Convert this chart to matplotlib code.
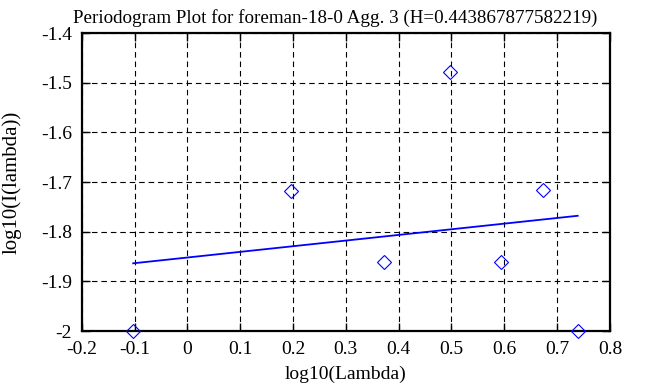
import matplotlib
matplotlib.use("Agg")
import matplotlib.pyplot as plt
from matplotlib.ticker import FuncFormatter

plt.rcParams['font.family'] = ['Liberation Serif', 'DejaVu Serif']
plt.rcParams['axes.unicode_minus'] = False

log_lambda = [-0.1025, 0.1956, 0.3716, 0.497, 0.593, 0.6726, 0.7389]
log_I = [-2.0, -1.718, -1.8605, -1.4786, -1.8605, -1.716, -2.0]
fit_x = [-0.1025, 0.7389]
fit_y = [-1.8637, -1.768]
title = "Periodogram Plot for foreman-18-0 Agg. 3 (H=0.443867877582219)"

fig = plt.figure(figsize=(6.63, 3.87), dpi=100)
ax = fig.add_axes([0.1232, 0.1447, 0.920 - 0.1232, 0.9147 - 0.1447])

ax.plot(log_lambda, log_I, linestyle='none', marker='D', markersize=7.5,
        markerfacecolor='none', markeredgecolor='blue', markeredgewidth=0.8, clip_on=False, zorder=3)
ax.plot(fit_x, fit_y, color='blue', linewidth=1.3, zorder=3)

ax.set_xlim(-0.2, 0.8)
ax.set_ylim(-2.0, -1.4)
ax.set_xticks([-0.2, -0.1, 0, 0.1, 0.2, 0.3, 0.4, 0.5, 0.6, 0.7, 0.8])
ax.set_yticks([-2.0, -1.9, -1.8, -1.7, -1.6, -1.5, -1.4])
fmt = FuncFormatter(lambda v, p: ('%g' % round(v, 3)))
ax.xaxis.set_major_formatter(fmt)
ax.yaxis.set_major_formatter(fmt)

ax.grid(True, color='black', linestyle=(0, (5, 3.5)), linewidth=0.8)
ax.tick_params(direction='in', length=6, width=1, top=True, right=True, labelsize=14, pad=7, colors='black')
for s in ax.spines.values():
    s.set_linewidth(1.6)

ax.set_xlabel('log10(Lambda)', fontsize=14, labelpad=6)
ax.set_ylabel('log10(I(lambda))', fontsize=15, labelpad=14)
ax.set_title(title, fontsize=13.7, pad=7, x=0.48)

fig.savefig('out.png', dpi=100)
